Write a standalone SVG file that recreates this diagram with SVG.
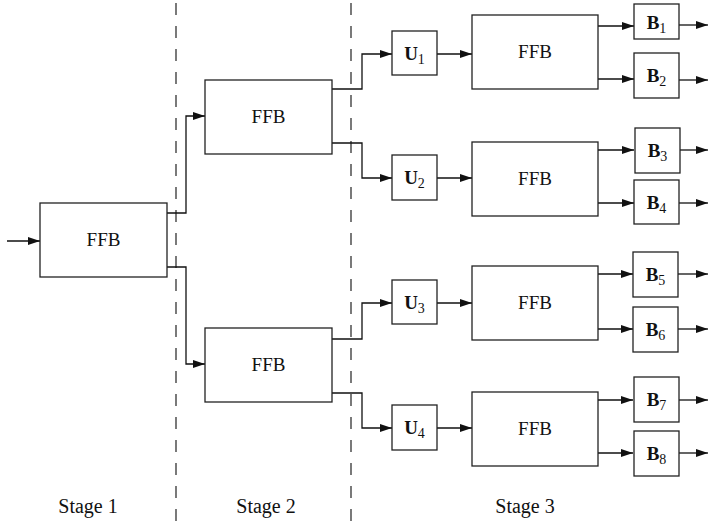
<svg xmlns="http://www.w3.org/2000/svg" width="708" height="523" viewBox="0 0 708 523">
<style>
.box{fill:#fff;stroke:#222;stroke-width:1.3}
.ln{fill:none;stroke:#111;stroke-width:1.3;marker-end:url(#ah)}
.dash{fill:none;stroke:#333;stroke-width:1.3;stroke-dasharray:12 11}
.t{font-family:"Liberation Serif",serif;font-size:19px;fill:#111;text-anchor:middle}
.s{font-family:"Liberation Serif",serif;font-size:20px;fill:#111;text-anchor:middle}
.b{font-family:"Liberation Serif",serif;font-size:19px;font-weight:bold;fill:#111;text-anchor:middle}
.sub{font-weight:normal;font-size:14px}
</style>
<defs>
<marker id="ah" markerUnits="userSpaceOnUse" markerWidth="13" markerHeight="9" refX="12" refY="4" orient="auto">
<path d="M0,0 L12,4 L0,8 z" fill="#111"/>
</marker>
</defs>
<g id="stage-dividers">
<line class="dash" x1="176" y1="3" x2="176" y2="523"/>
<line class="dash" x1="351" y1="3" x2="351" y2="523"/>
</g>
<g id="connectors">
<path class="ln" d="M7,241 H40"/>
<path class="ln" d="M167,213 H186 V116 H205"/>
<path class="ln" d="M167,267 H186 V364 H205"/>
<path class="ln" d="M332,89 H362 V54 H392"/>
<path class="ln" d="M332,143 H362 V178 H392"/>
<path class="ln" d="M332,339 H362 V303 H392"/>
<path class="ln" d="M332,393 H362 V428 H392"/>
<path class="ln" d="M437,54 H472"/>
<path class="ln" d="M437,178 H472"/>
<path class="ln" d="M437,303 H472"/>
<path class="ln" d="M437,428 H472"/>
<path class="ln" d="M598,26 H634"/>
<path class="ln" d="M598,79 H634"/>
<path class="ln" d="M598,150 H634"/>
<path class="ln" d="M598,203 H634"/>
<path class="ln" d="M598,274 H633"/>
<path class="ln" d="M598,329 H633"/>
<path class="ln" d="M598,400 H633"/>
<path class="ln" d="M598,453 H633"/>
<path class="ln" d="M679,25 H708"/>
<path class="ln" d="M679,80 H708"/>
<path class="ln" d="M680,150 H708"/>
<path class="ln" d="M679,203 H708"/>
<path class="ln" d="M678,274 H708"/>
<path class="ln" d="M678,329 H708"/>
<path class="ln" d="M679,400 H708"/>
<path class="ln" d="M679,453 H708"/>
</g>
<g id="ffb-s1"><rect class="box" x="40" y="203" width="127" height="74"/><text class="t" x="103.5" y="246">FFB</text></g>
<g id="ffb-s2a"><rect class="box" x="205" y="80" width="127" height="74"/><text class="t" x="268.5" y="123">FFB</text></g>
<g id="ffb-s2b"><rect class="box" x="205" y="328" width="127" height="74"/><text class="t" x="268.5" y="371">FFB</text></g>
<g id="u1"><rect class="box" x="392" y="31" width="45" height="44"/><text class="b" x="414.5" y="60">U<tspan class="sub" dy="4">1</tspan></text></g>
<g id="u2"><rect class="box" x="392" y="155" width="45" height="45"/><text class="b" x="414.5" y="184">U<tspan class="sub" dy="4">2</tspan></text></g>
<g id="u3"><rect class="box" x="392" y="280" width="45" height="44"/><text class="b" x="414.5" y="309">U<tspan class="sub" dy="4">3</tspan></text></g>
<g id="u4"><rect class="box" x="392" y="405" width="45" height="45"/><text class="b" x="414.5" y="434">U<tspan class="sub" dy="4">4</tspan></text></g>
<g id="ffb-s3a"><rect class="box" x="472" y="15" width="126" height="74"/><text class="t" x="535" y="58">FFB</text></g>
<g id="ffb-s3b"><rect class="box" x="472" y="142" width="126" height="74"/><text class="t" x="535" y="185">FFB</text></g>
<g id="ffb-s3c"><rect class="box" x="472" y="266" width="126" height="74"/><text class="t" x="535" y="309">FFB</text></g>
<g id="ffb-s3d"><rect class="box" x="472" y="392" width="126" height="74"/><text class="t" x="535" y="435">FFB</text></g>
<g id="b1"><rect class="box" x="634" y="4" width="45" height="35"/><text class="b" x="656.5" y="29">B<tspan class="sub" dy="4">1</tspan></text></g>
<g id="b2"><rect class="box" x="634" y="53" width="45" height="45"/><text class="b" x="656.5" y="82">B<tspan class="sub" dy="4">2</tspan></text></g>
<g id="b3"><rect class="box" x="635" y="128" width="45" height="45"/><text class="b" x="657.5" y="157">B<tspan class="sub" dy="4">3</tspan></text></g>
<g id="b4"><rect class="box" x="634" y="180" width="45" height="44"/><text class="b" x="656.5" y="209">B<tspan class="sub" dy="4">4</tspan></text></g>
<g id="b5"><rect class="box" x="633" y="252" width="45" height="45"/><text class="b" x="655.5" y="281">B<tspan class="sub" dy="4">5</tspan></text></g>
<g id="b6"><rect class="box" x="633" y="307" width="45" height="45"/><text class="b" x="655.5" y="336">B<tspan class="sub" dy="4">6</tspan></text></g>
<g id="b7"><rect class="box" x="634" y="377" width="45" height="45"/><text class="b" x="656.5" y="406">B<tspan class="sub" dy="4">7</tspan></text></g>
<g id="b8"><rect class="box" x="634" y="431" width="45" height="45"/><text class="b" x="656.5" y="460">B<tspan class="sub" dy="4">8</tspan></text></g>
<g id="stage-labels">
<text class="s" x="88" y="513">Stage 1</text>
<text class="s" x="266" y="513">Stage 2</text>
<text class="s" x="525" y="513">Stage 3</text>
</g>
</svg>
